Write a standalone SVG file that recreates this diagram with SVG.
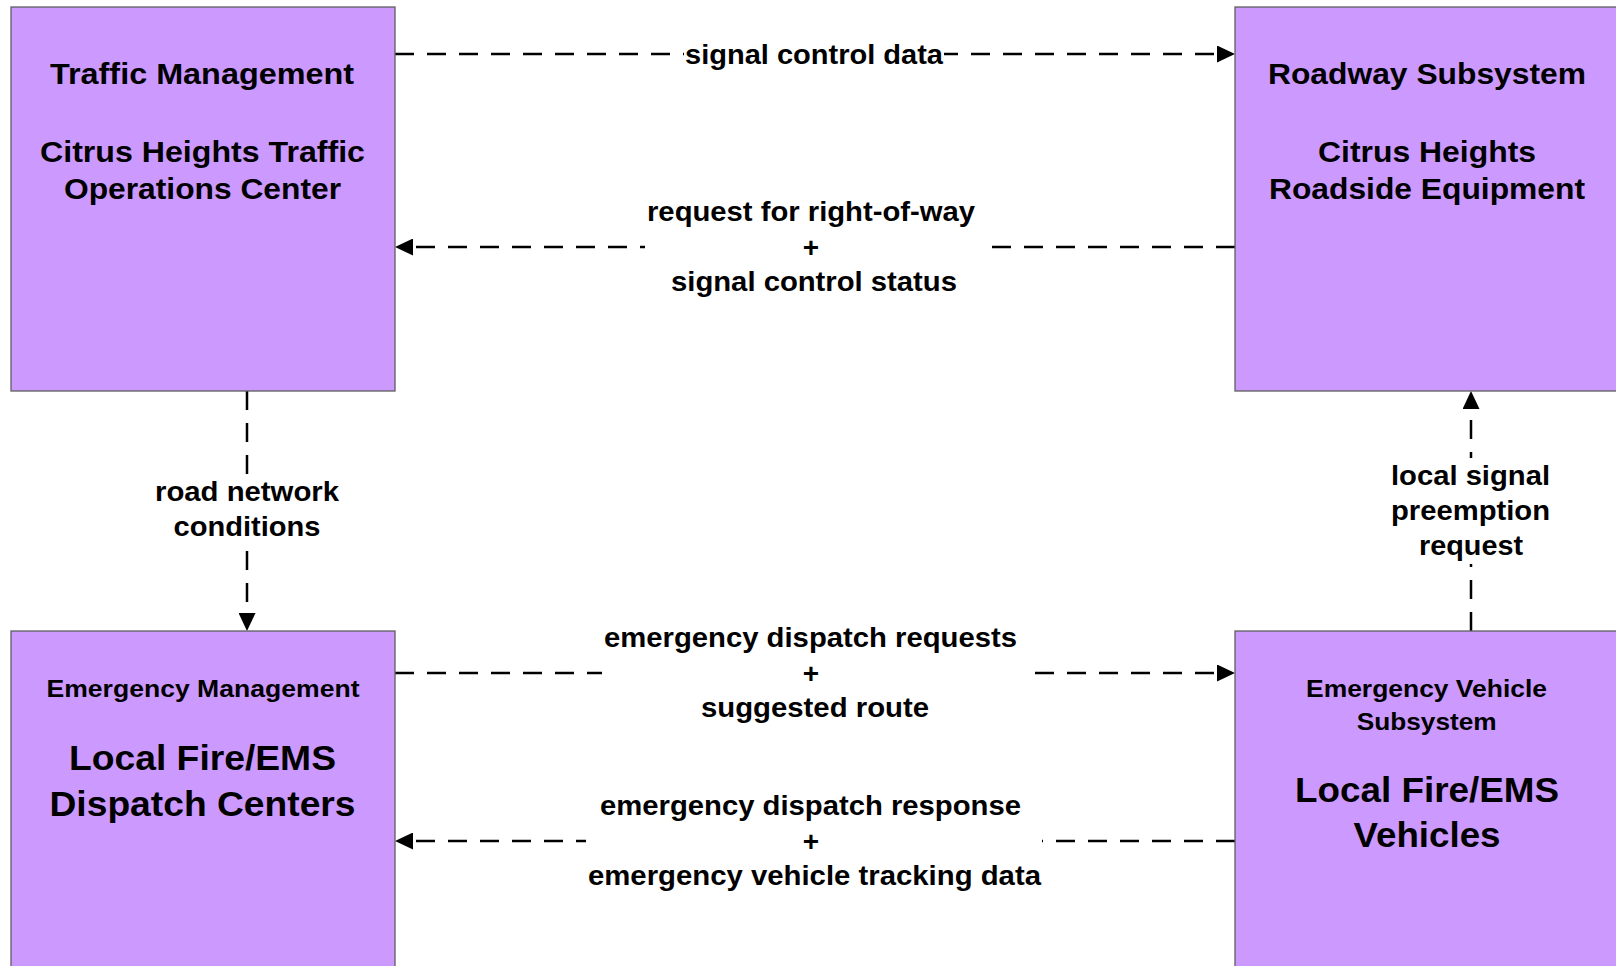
<svg xmlns="http://www.w3.org/2000/svg" width="1616" height="966" viewBox="0 0 1616 966">
<style>
.box{fill:#CC99FF;stroke:#5F5F5F;stroke-width:1.3}
.t{font-family:"Liberation Sans",Arial,sans-serif;font-weight:bold;fill:#000;text-anchor:middle}
.n{font-size:29px}
.s{font-size:24px}
.b{font-size:35px}
.l{font-size:28px}
.c{fill:none;stroke:#000;stroke-width:2.5;stroke-dasharray:19 13}
.bg{fill:#fff}
</style>
<defs>
<marker id="ah" markerUnits="userSpaceOnUse" markerWidth="18" markerHeight="17" refX="0" refY="8.5" orient="auto">
<path d="M0,0 L18,8.5 L0,17 z" fill="#000"/>
</marker>
</defs>
<rect width="1616" height="966" fill="#fff"/>
<g id="connectors">
<path class="c" d="M395,54 H1217" marker-end="url(#ah)"/>
<path class="c" d="M1235,247 H413" marker-end="url(#ah)"/>
<path class="c" d="M247,391 V613" marker-end="url(#ah)"/>
<path class="c" d="M1471,631 V409" marker-end="url(#ah)"/>
<path class="c" d="M395,673 H1217" marker-end="url(#ah)"/>
<path class="c" d="M1235,841 H413" marker-end="url(#ah)"/>
<rect class="bg" x="684" y="42" width="260" height="26"/>
<rect class="bg" x="645" y="200" width="345" height="100"/>
<rect class="bg" x="150" y="474" width="195" height="74"/>
<rect class="bg" x="1385" y="458" width="171" height="106"/>
<rect class="bg" x="602" y="625" width="432" height="100"/>
<rect class="bg" x="586" y="790" width="456" height="105"/>
<text class="t l" x="814" y="64" textLength="258" lengthAdjust="spacingAndGlyphs">signal control data</text>
<text class="t l" x="811" y="221" textLength="328" lengthAdjust="spacingAndGlyphs">request for right-of-way</text>
<text class="t l" x="811" y="257">+</text>
<text class="t l" x="814" y="291" textLength="286" lengthAdjust="spacingAndGlyphs">signal control status</text>
<text class="t l" x="247" y="501" textLength="184" lengthAdjust="spacingAndGlyphs">road network</text>
<text class="t l" x="247" y="536" textLength="147" lengthAdjust="spacingAndGlyphs">conditions</text>
<text class="t l" x="1470.5" y="485" textLength="159" lengthAdjust="spacingAndGlyphs">local signal</text>
<text class="t l" x="1470.5" y="520" textLength="159" lengthAdjust="spacingAndGlyphs">preemption</text>
<text class="t l" x="1471" y="555" textLength="104" lengthAdjust="spacingAndGlyphs">request</text>
<text class="t l" x="810.5" y="647" textLength="413" lengthAdjust="spacingAndGlyphs">emergency dispatch requests</text>
<text class="t l" x="811" y="683">+</text>
<text class="t l" x="815" y="717" textLength="228" lengthAdjust="spacingAndGlyphs">suggested route</text>
<text class="t l" x="810.5" y="815" textLength="421" lengthAdjust="spacingAndGlyphs">emergency dispatch response</text>
<text class="t l" x="811" y="851">+</text>
<text class="t l" x="814.5" y="885" textLength="453" lengthAdjust="spacingAndGlyphs">emergency vehicle tracking data</text>
</g>
<g id="traffic-management">
<rect class="box" x="11" y="7" width="384" height="384"/>
<text class="t n" x="202" y="84" textLength="304" lengthAdjust="spacingAndGlyphs">Traffic Management</text>
<text class="t n" x="202.5" y="162" textLength="325" lengthAdjust="spacingAndGlyphs">Citrus Heights Traffic</text>
<text class="t n" x="202.5" y="199" textLength="277" lengthAdjust="spacingAndGlyphs">Operations Center</text>
</g>
<g id="roadway-subsystem">
<rect class="box" x="1235" y="7" width="384" height="384"/>
<text class="t n" x="1427" y="84" textLength="318" lengthAdjust="spacingAndGlyphs">Roadway Subsystem</text>
<text class="t n" x="1427" y="162" textLength="218" lengthAdjust="spacingAndGlyphs">Citrus Heights</text>
<text class="t n" x="1427" y="199" textLength="316" lengthAdjust="spacingAndGlyphs">Roadside Equipment</text>
</g>
<g id="emergency-management">
<rect class="box" x="11" y="631" width="384" height="400"/>
<text class="t s" x="203" y="697" textLength="313" lengthAdjust="spacingAndGlyphs">Emergency Management</text>
<text class="t b" x="202.5" y="770" textLength="267" lengthAdjust="spacingAndGlyphs">Local Fire/EMS</text>
<text class="t b" x="202.5" y="816" textLength="306" lengthAdjust="spacingAndGlyphs">Dispatch Centers</text>
</g>
<g id="emergency-vehicle-subsystem">
<rect class="box" x="1235" y="631" width="384" height="400"/>
<text class="t s" x="1426.5" y="697" textLength="241" lengthAdjust="spacingAndGlyphs">Emergency Vehicle</text>
<text class="t s" x="1426.7" y="730" textLength="140" lengthAdjust="spacingAndGlyphs">Subsystem</text>
<text class="t b" x="1427" y="802" textLength="264" lengthAdjust="spacingAndGlyphs">Local Fire/EMS</text>
<text class="t b" x="1427" y="847" textLength="147" lengthAdjust="spacingAndGlyphs">Vehicles</text>
</g>
</svg>
